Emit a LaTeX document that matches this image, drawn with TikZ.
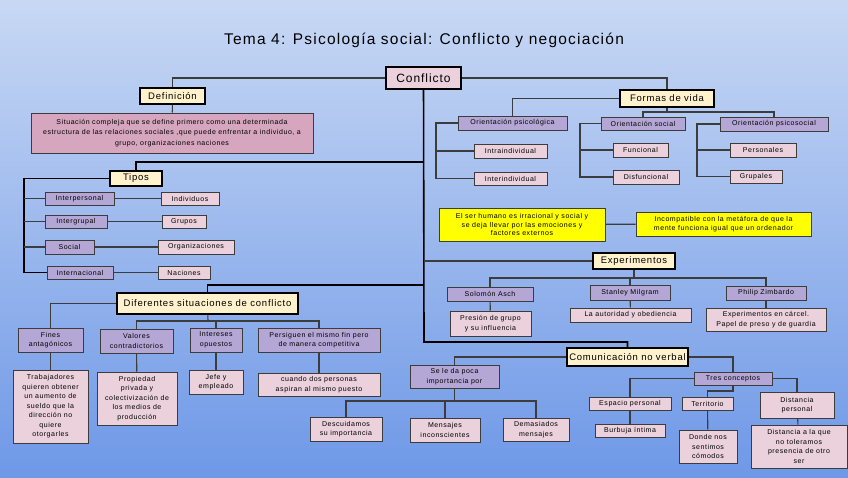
\documentclass[tikz,border=0pt]{standalone}
\usepackage{fontspec}
\setmainfont{Liberation Sans}[LetterSpace=8]
\definecolor{lila}{HTML}{B4A7D6}
\definecolor{rosa}{HTML}{EAD1DC}
\definecolor{malva}{HTML}{D5A6BD}
\definecolor{crema}{HTML}{FFF2CC}
\definecolor{amarillo}{HTML}{FFFF00}
\definecolor{linea}{HTML}{3C3C3C}
\definecolor{cielo}{HTML}{C8D8F4}
\definecolor{azul}{HTML}{6E98E7}
\tikzset{
  caja/.style={draw=linea, line width=1pt, inner sep=1pt, align=center, font=\fontsize{7}{9.5}\selectfont},
  tema/.style={caja, draw=black, line width=1.6pt, fill=crema, font=\fontsize{9.5}{11}\selectfont},
  tipo/.style={caja, fill=lila},
  hoja/.style={caja, fill=rosa},
  ln/.style={draw=linea, line width=1.1pt},
  tronco/.style={draw=black, line width=1.6pt},
}
\begin{document}
\begin{tikzpicture}[x=1pt,y=-1pt]
\fill[top color=cielo, bottom color=azul] (0,0) rectangle (848,477);
\useasboundingbox (0,0) rectangle (848,477);
\node[font=\fontsize{15.5}{18}\selectfont] (titulo) at (424,40) {Tema 4: Psicología social: Conflicto y negociación};
\node[tema, fill=rosa, font=\fontsize{12}{13}\selectfont, minimum width=75, minimum height=22] (conflicto) at (423.5,78) {Conflicto};
\node[tema, minimum width=65, minimum height=16] (definicion) at (172.5,96) {Definición};
\node[caja, fill=malva, minimum width=282, minimum height=40, font=\fontsize{7}{10.5}\selectfont] (deftxt) at (172,133) {Situación compleja que se define primero como una determinada\\estructura de las relaciones sociales ,que puede enfrentar a individuo, a\\grupo, organizaciones naciones};
\node[tema, minimum width=52, minimum height=15] (tipos) at (136,178.5) {Tipos};
\node[tipo, minimum width=69, minimum height=13] (interp) at (79.5,198.5) {Interpersonal};
\node[hoja, minimum width=58, minimum height=13] (indiv) at (190,198.5) {Individuos};
\node[tipo, minimum width=62, minimum height=13] (intergr) at (76,221.5) {Intergrupal};
\node[hoja, minimum width=44, minimum height=13] (grupos) at (184,221.5) {Grupos};
\node[tipo, minimum width=49, minimum height=14] (social) at (69.5,247) {Social};
\node[hoja, minimum width=76, minimum height=14] (organiz) at (196,247) {Organizaciones};
\node[tipo, minimum width=66, minimum height=13] (internac) at (80,272.5) {Internacional};
\node[hoja, minimum width=52, minimum height=13] (naciones) at (184,272.5) {Naciones};
\node[tema, minimum width=181, minimum height=21] (diferentes) at (207.5,303.5) {Diferentes situaciones de conflicto};
\node[tipo, minimum width=65, minimum height=24] (fines) at (50.5,340) {Fines\\antagónicos};
\node[tipo, minimum width=73, minimum height=24] (valores) at (136.5,341) {Valores\\contradictorios};
\node[tipo, minimum width=52, minimum height=24] (intereses) at (216,340) {Intereses\\opuestos};
\node[tipo, minimum width=122, minimum height=24] (persiguen) at (319,340) {Persiguen el mismo fin pero\\de manera competitiva};
\node[hoja, minimum width=75, minimum height=73] (trabajad) at (50.5,406.5) {Trabajadores\\quieren obtener\\un aumento de\\sueldo que la\\dirección no\\quiere\\otorgarles};
\node[hoja, minimum width=80, minimum height=53] (propiedad) at (137,398.5) {Propiedad\\privada y\\colectivización de\\los medios de\\producción};
\node[hoja, minimum width=54, minimum height=24] (jefe) at (216,382) {Jefe y\\empleado};
\node[hoja, minimum width=122, minimum height=23] (cuando) at (319,384.5) {cuando dos personas\\aspiran al mismo puesto};
\node[tema, minimum width=94, minimum height=17] (formas) at (667,98.5) {Formas de vida};
\node[tipo, minimum width=109, minimum height=14] (orpsico) at (512.5,123) {Orientación psicológica};
\node[tipo, minimum width=84, minimum height=13] (orsocial) at (643,123.5) {Orientación social};
\node[tipo, minimum width=108, minimum height=14] (orpsicosoc) at (774,124) {Orientación psicosocial};
\node[hoja, minimum width=73, minimum height=14] (intraind) at (510.5,151) {Intraindividual};
\node[hoja, minimum width=73, minimum height=13] (interind) at (510.5,178.5) {Interindividual};
\node[hoja, minimum width=55, minimum height=14] (funcional) at (640.5,150) {Funcional};
\node[hoja, minimum width=66, minimum height=14] (disfunc) at (646,177) {Disfuncional};
\node[hoja, minimum width=66, minimum height=14] (personales) at (763,150) {Personales};
\node[hoja, minimum width=52, minimum height=13] (grupales) at (756,176.5) {Grupales};
\node[caja, fill=amarillo, minimum width=166, minimum height=33, font=\fontsize{7}{8.5}\selectfont] (irracional) at (522,224.5) {El ser humano es irracional y social y\\se deja llevar por las emociones y\\factores externos};
\node[caja, fill=amarillo, minimum width=175, minimum height=24] (incompat) at (723.5,224) {Incompatible con la metáfora de que la\\mente funciona igual que un ordenador};
\node[tema, minimum width=82, minimum height=16] (experim) at (634,261) {Experimentos};
\node[tipo, minimum width=86, minimum height=14] (asch) at (490,294) {Solomón Asch};
\node[tipo, minimum width=80, minimum height=15] (milgram) at (630,292.5) {Stanley Milgram};
\node[tipo, minimum width=80, minimum height=14] (zimbardo) at (766,293) {Philip Zimbardo};
\node[hoja, minimum width=81, minimum height=25] (presion) at (490.5,323.5) {Presión de grupo\\y su influencia};
\node[hoja, minimum width=121, minimum height=14] (autoridad) at (630.5,315) {La autoridad y obediencia};
\node[hoja, minimum width=120, minimum height=23] (carcel) at (766,319.5) {Experimentos en cárcel.\\Papel de preso y de guardia};
\node[tema, minimum width=121, minimum height=18] (comunic) at (627.5,357) {Comunicación no verbal};
\node[tipo, minimum width=89, minimum height=23] (sele) at (454.5,376.5) {Se le da poca\\importancia por};
\node[hoja, minimum width=72, minimum height=24] (descuid) at (346,429) {Descuidamos\\su importancia};
\node[hoja, minimum width=70, minimum height=24] (mensinc) at (445,430) {Mensajes\\inconscientes};
\node[hoja, minimum width=66, minimum height=23] (demasiad) at (536,429.5) {Demasiados\\mensajes};
\node[tipo, minimum width=78, minimum height=13] (tres) at (733,378.5) {Tres conceptos};
\node[hoja, minimum width=82, minimum height=13] (espacio) at (630,404) {Espacio personal};
\node[hoja, minimum width=70, minimum height=13] (burbuja) at (630,430.5) {Burbuja íntima};
\node[hoja, minimum width=51, minimum height=13] (territorio) at (707.5,403.5) {Territorio};
\node[hoja, minimum width=58, minimum height=33] (donde) at (708,446.5) {Donde nos\\sentimos\\cómodos};
\node[hoja, minimum width=74, minimum height=26] (distancia) at (797,405) {Distancia\\personal};
\node[hoja, minimum width=96, minimum height=43] (distala) at (799,446.5) {Distancia a la que\\no toleramos\\presencia de otro\\ser};
\coordinate (ktipos) at (424,162);
\coordinate (kdif) at (424,285);
\coordinate (kexp) at (424,261);
\coordinate (kcom) at (424,342);
\coordinate (tbus) at (24,178.5);
\coordinate (dbus) at (208,321);
\coordinate (fbus) at (667,112);
\coordinate (opbus) at (436,123);
\coordinate (osbus) at (580,123.5);
\coordinate (ocbus) at (697,124);
\coordinate (ebus) at (634,278);
\coordinate (sbus) at (454.5,401);
\coordinate (tcorner) at (733,391);
\draw[tronco] (conflicto) -- (kcom) -| (comunic);
\draw[ln] (conflicto) -| (definicion);
\draw[ln] (conflicto) -| (formas);
\draw[ln] (definicion) -- (deftxt);
\draw[tronco] (ktipos) -| (tipos);
\draw[tronco] (tipos) -- (tbus) |- (internac);
\foreach \n in {interp,intergr,social}
  \draw[ln] (tbus |- \n) -- (\n);
\draw[ln] (interp) -- (indiv);
\draw[ln] (intergr) -- (grupos);
\draw[ln] (social) -- (organiz);
\draw[ln] (internac) -- (naciones);
\draw[tronco] (kdif) -| (diferentes);
\draw[ln] (diferentes) -| (fines);
\draw[ln] (diferentes) -- (dbus);
\draw[ln] (valores) |- (dbus) -| (persiguen);
\draw[ln] (dbus -| intereses) -- (intereses);
\draw[ln] (fines) -- (trabajad);
\draw[ln] (valores) -- (propiedad);
\draw[ln] (intereses) -- (jefe);
\draw[ln] (persiguen) -- (cuando);
\draw[ln] (formas) -| (orpsico);
\draw[ln] (formas) -- (fbus);
\draw[ln] (orsocial) |- (fbus) -| (orpsicosoc);
\draw[ln] (orpsico) -- (opbus) |- (interind);
\draw[ln] (opbus |- intraind) -- (intraind);
\draw[ln] (orsocial) -- (osbus) |- (disfunc);
\draw[ln] (osbus |- funcional) -- (funcional);
\draw[ln] (orpsicosoc) -- (ocbus) |- (grupales);
\draw[ln] (ocbus |- personales) -- (personales);
\draw[ln] (irracional) -- (incompat);
\draw[ln] (kexp) -- (experim);
\draw[ln] (experim) -- (ebus);
\draw[ln] (asch) |- (ebus) -| (zimbardo);
\draw[ln] (ebus -| milgram) -- (milgram);
\draw[ln] (asch) -- (presion);
\draw[ln] (milgram) -- (autoridad);
\draw[ln] (zimbardo) -- (carcel);
\draw[ln] (comunic) -| (sele);
\draw[ln] (sele) -- (sbus);
\draw[ln] (descuid) |- (sbus) -| (demasiad);
\draw[ln] (sbus -| mensinc) -- (mensinc);
\draw[ln] (comunic) -| (tres);
\draw[ln] (tres) -| (espacio);
\draw[ln] (tres) -| (distancia);
\draw[ln] (tres) -- (tcorner) -| (territorio);
\draw[ln] (espacio) -- (burbuja);
\draw[ln] (territorio) -- (donde);
\draw[ln] (distancia) -- (distala);
\end{tikzpicture}
\end{document}
